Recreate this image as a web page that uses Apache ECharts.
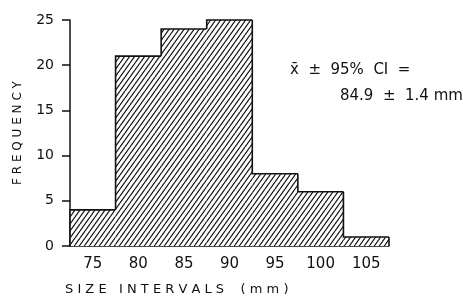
<!DOCTYPE html>
<html>
<head>
<meta charset="utf-8">
<script src="https://cdn.jsdelivr.net/npm/echarts@6/dist/echarts.min.js"></script>
<style>
  html, body { margin: 0; padding: 0; background: #fff; }
  #chart { width: 463px; height: 299px; }
</style>
</head>
<body>
<div id="chart"></div>
<script>
// size classes (mm, bin centres) and counts
var sizeIntervals = ['75', '80', '85', '90', '95', '100', '105'];
var frequency = [4, 21, 24, 25, 8, 6, 1];
var yTicks = [0, 5, 10, 15, 20, 25];

// hatch tile: diagonal strokes rising to the right
function makeHatch() {
  var w = 5, h = 7;
  var c = document.createElement('canvas');
  c.width = w; c.height = h;
  var ctx = c.getContext('2d');
  ctx.fillStyle = '#fff';
  ctx.fillRect(0, 0, w, h);
  ctx.strokeStyle = '#111';
  ctx.lineWidth = 1.2;
  [-w, 0, w].forEach(function (dx) {
    ctx.beginPath();
    ctx.moveTo(dx, h);
    ctx.lineTo(dx + w, 0);
    ctx.stroke();
  });
  return c;
}
var hatch = makeHatch();

var chart = echarts.init(document.getElementById('chart'), null, { renderer: 'canvas' });
var ink = '#111';
var font = 'DejaVu Sans';

var option = {
  animation: false,
  backgroundColor: '#fff',
  grid: { left: 70, right: 74, top: 20, bottom: 53 },
  xAxis: {
    type: 'category',
    data: sizeIntervals,
    boundaryGap: true,
    axisLine: { lineStyle: { color: ink, width: 1.5 } },
    axisTick: { alignWithLabel: true, length: 6, lineStyle: { color: ink, width: 1.5 } },
    axisLabel: { color: ink, fontSize: 15, fontFamily: font, margin: 11 },
    splitLine: { show: false }
  },
  yAxis: {
    type: 'value',
    min: yTicks[0],
    max: yTicks[yTicks.length - 1],
    interval: 5,
    name: 'F R E Q U E N C Y',
    nameLocation: 'middle',
    nameGap: 46,
    nameRotate: 90,
    nameTextStyle: { color: ink, fontSize: 12, fontFamily: font },
    axisLine: { show: true, lineStyle: { color: ink, width: 1.5 } },
    axisTick: { show: true, length: 8, lineStyle: { color: ink, width: 1.5 } },
    axisLabel: { color: ink, fontSize: 14, fontFamily: font, margin: 16 },
    splitLine: { show: false }
  },
  graphic: [
    {
      type: 'text', left: 65, top: 283,
      style: { text: 'S I Z E   I N T E R V A L S    ( m m )', fill: ink, font: '13px "DejaVu Sans"' }
    },
    {
      type: 'text', left: 290, top: 63,
      style: { text: 'x\u0304  \u00b1  95%  CI  =', fill: ink, font: '15px "DejaVu Sans"' }
    },
    {
      type: 'text', left: 340, top: 89,
      style: { text: '84.9  \u00b1  1.4 mm', fill: ink, font: '15px "DejaVu Sans"' }
    }
  ],
  series: [{
    type: 'custom',
    data: frequency.map(function (v, i) { return [i, v]; }),
    encode: { x: 0, y: 1 },
    renderItem: function (params, api) {
      var i = params.dataIndex;
      var top = api.coord([i, api.value(1)]);
      var base = api.coord([i, 0]);
      var w = api.size([1, 0])[0];
      var x0 = top[0] - w / 2, x1 = top[0] + w / 2;
      var prevY = api.coord([i, i > 0 ? frequency[i - 1] : 0])[1];
      var line = { stroke: ink, lineWidth: 1.6, fill: null };
      var kids = [
        { type: 'rect', shape: { x: x0, y: top[1], width: w, height: base[1] - top[1] },
          style: { fill: { image: hatch, repeat: 'repeat' } } },
        { type: 'polyline', shape: { points: [[x0, prevY], [x0, top[1]], [x1, top[1]]] }, style: line }
      ];
      if (i === frequency.length - 1) {
        kids.push({ type: 'line', shape: { x1: x1, y1: top[1], x2: x1, y2: base[1] }, style: line });
      }
      return { type: 'group', children: kids };
    }
  }]
};
chart.setOption(option);
</script>
</body>
</html>
